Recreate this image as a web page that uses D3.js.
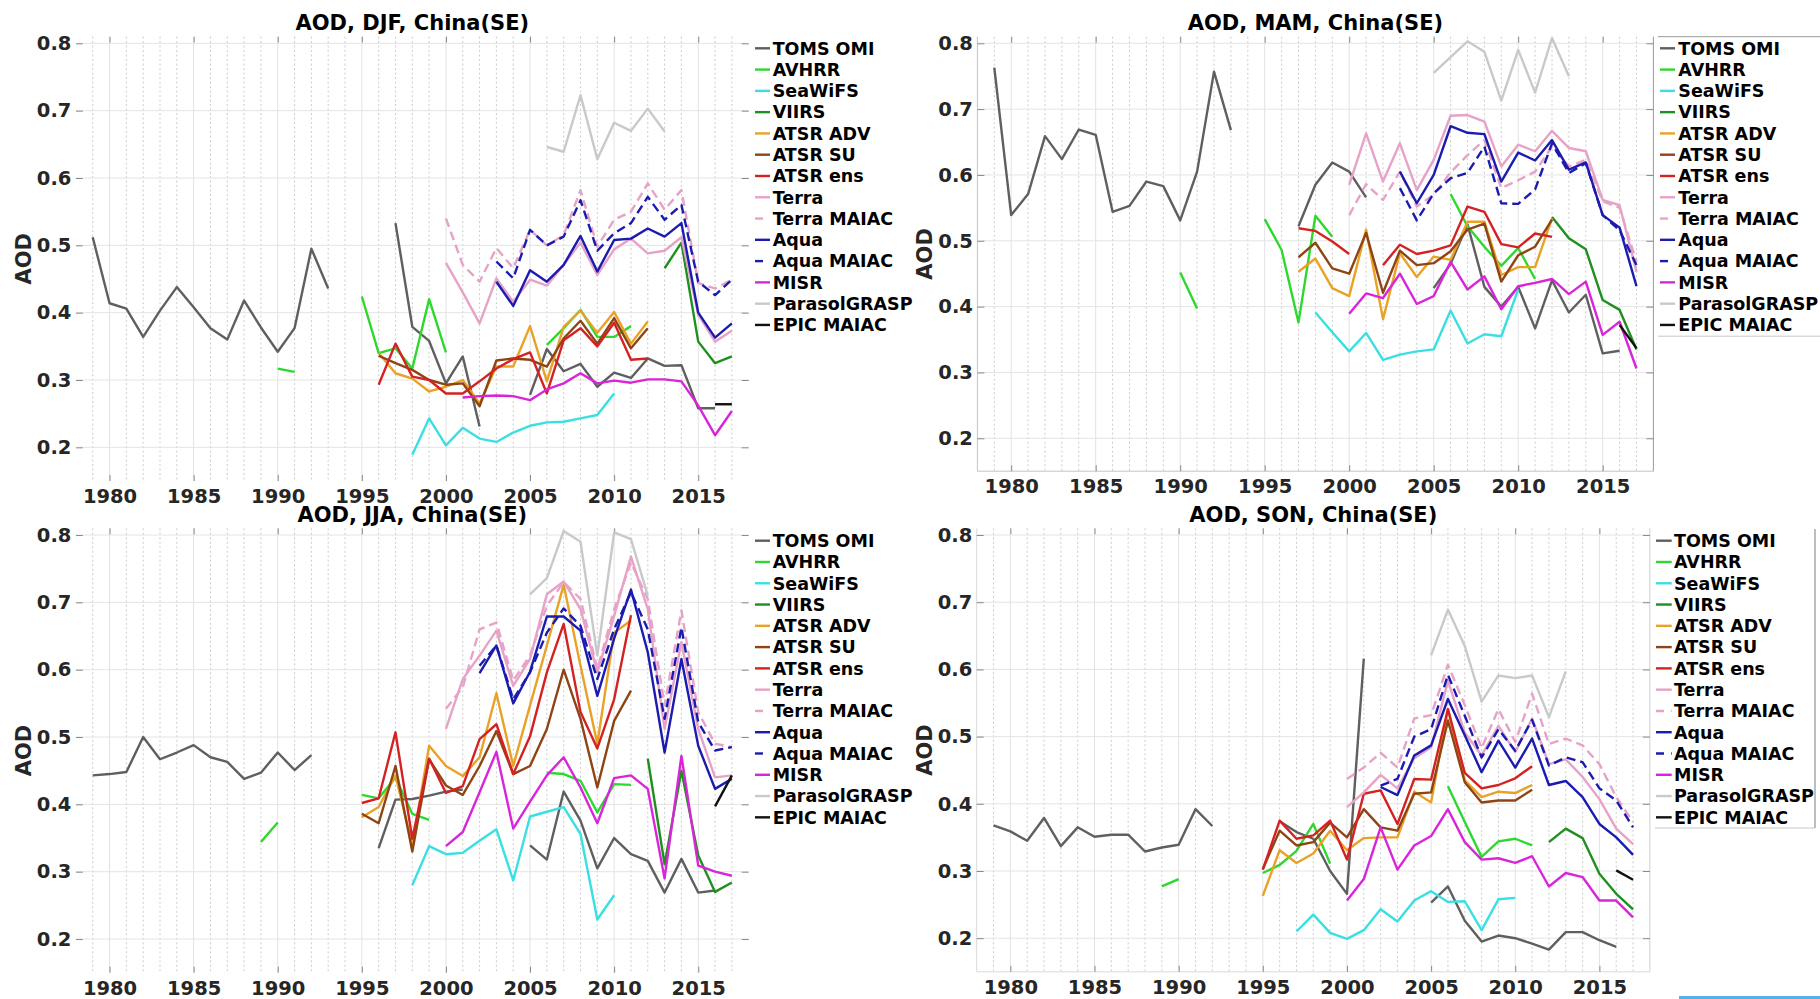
<!DOCTYPE html>
<html>
<head>
<meta charset="utf-8">
<script src="https://cdn.jsdelivr.net/npm/d3@7"></script>
<style>
  html, body { margin: 0; padding: 0; background: #ffffff; }
  svg { display: block; font-family: "DejaVu Sans", sans-serif; }
</style>
</head>
<body>
<svg id="chart" width="1820" height="999"></svg>
<script>
// ---- Series definitions (legend order) ----
const SERIES_NAMES = ["TOMS OMI", "AVHRR", "SeaWiFS", "VIIRS", "ATSR ADV", "ATSR SU", "ATSR ens",
  "Terra", "Terra MAIAC", "Aqua", "Aqua MAIAC", "MISR", "ParasolGRASP", "EPIC MAIAC"];
const SERIES_COLORS = ["#5f5f5f", "#2ed82e", "#3adfe3", "#1f8f1f", "#e9a126", "#8e4414", "#d42222",
  "#e7a2c8", "#e7a2c8", "#1b1bb0", "#1b1bb0", "#d925d9", "#c9c9c9", "#111111"];
const SERIES_DASHED = [false, false, false, false, false, false, false, false, true, false, true, false, false, false];

const YEAR_TICKS = [1980, 1985, 1990, 1995, 2000, 2005, 2010, 2015];
const AOD_TICKS = [0.2, 0.3, 0.4, 0.5, 0.6, 0.7, 0.8];
const YEAR_LIMITS = [1978, 2018];
const AOD_LIMITS = [0.15, 0.81];

// ---- DJF (start year + yearly AOD, null = no retrieval) ----
const djfTomsOmi = { start: 1979, aod: [0.512, 0.414, 0.406, 0.364, 0.403, 0.438, 0.408, 0.377, 0.360, 0.418, 0.378, 0.342, 0.377, 0.495, 0.436, null, null, null, 0.533, 0.379, 0.358, 0.295, 0.335, 0.231, null, null, 0.278, 0.346, 0.313, 0.324, 0.290, 0.311, 0.303, 0.332, 0.321, 0.322, 0.258, 0.258] };
const djfAvhrr = { start: 1990, aod: [0.317, 0.312, null, null, null, 0.424, 0.340, 0.347, 0.317, 0.420, 0.341, null, null, null, null, null, 0.352, 0.377, 0.404, 0.364, 0.364, 0.380] };
const djfSeawifs = { start: 1998, aod: [0.189, 0.243, 0.203, 0.229, 0.213, 0.208, 0.222, 0.232, 0.237, 0.238, 0.243, 0.248, 0.280] };
const djfViirs = { start: 2013, aod: [0.466, 0.504, 0.357, 0.325, 0.335] };
const djfAtsrAdv = { start: 1996, aod: [0.340, 0.310, 0.302, 0.283, 0.290, 0.300, 0.265, 0.320, 0.320, 0.380, 0.298, 0.379, 0.403, 0.370, 0.401, 0.354, 0.387] };
const djfAtsrSu = { start: 1996, aod: [0.336, 0.325, 0.315, 0.300, 0.293, 0.295, 0.261, 0.329, 0.332, 0.330, 0.320, 0.362, 0.388, 0.354, 0.392, 0.347, 0.377] };
const djfAtsrEns = { start: 1996, aod: [0.293, 0.354, 0.305, 0.300, 0.280, 0.280, 0.298, 0.317, 0.331, 0.341, 0.280, 0.359, 0.377, 0.350, 0.385, 0.330, 0.332] };
const djfTerra = { start: 2000, aod: [0.474, 0.430, 0.384, 0.451, 0.416, 0.449, 0.440, 0.471, 0.504, 0.456, 0.494, 0.510, 0.488, 0.492, 0.512, 0.397, 0.357, 0.373] };
const djfTerraMaiac = { start: 2000, aod: [0.540, 0.471, 0.446, 0.496, 0.466, 0.523, 0.500, 0.515, 0.582, 0.498, 0.538, 0.550, 0.592, 0.553, 0.582, 0.444, 0.436, 0.449] };
const djfAqua = { start: 2003, aod: [0.446, 0.410, 0.463, 0.446, 0.471, 0.514, 0.461, 0.508, 0.510, 0.525, 0.513, 0.533, 0.400, 0.363, 0.384] };
const djfAquaMaiac = { start: 2003, aod: [0.476, 0.451, 0.523, 0.500, 0.513, 0.567, 0.492, 0.518, 0.533, 0.572, 0.538, 0.560, 0.446, 0.426, 0.449] };
const djfMisr = { start: 2001, aod: [0.274, 0.276, 0.277, 0.276, 0.270, 0.286, 0.295, 0.310, 0.295, 0.299, 0.296, 0.301, 0.301, 0.298, 0.262, 0.218, 0.254] };
const djfParasol = { start: 2006, aod: [0.646, 0.639, 0.723, 0.628, 0.682, 0.670, 0.703, 0.669] };
const djfEpic = { start: 2016, aod: [0.264, 0.264] };

// ---- MAM ----
const mamTomsOmi = { start: 1979, aod: [0.763, 0.539, 0.571, 0.659, 0.624, 0.669, 0.661, 0.544, 0.553, 0.590, 0.583, 0.531, 0.605, 0.757, 0.668, null, null, null, 0.522, 0.585, 0.619, 0.605, 0.566, null, null, null, 0.428, 0.465, 0.525, 0.430, 0.400, 0.430, 0.367, 0.440, 0.391, 0.418, 0.329, 0.333] };
const mamAvhrr = { start: 1990, aod: [0.452, 0.397, null, null, null, 0.533, 0.486, 0.376, 0.538, 0.506, null, null, null, null, null, null, 0.571, 0.522, 0.491, 0.462, 0.489, 0.442] };
const mamSeawifs = { start: 1998, aod: [0.391, 0.361, 0.332, 0.360, 0.319, 0.327, 0.332, 0.335, 0.394, 0.344, 0.358, 0.355, 0.426] };
const mamViirs = { start: 2012, aod: [0.536, 0.504, 0.487, 0.410, 0.395, 0.335] };
const mamAtsrAdv = { start: 1997, aod: [0.453, 0.473, 0.428, 0.416, 0.517, 0.381, 0.481, 0.445, 0.476, 0.471, 0.529, 0.529, 0.448, 0.460, 0.460, 0.534] };
const mamAtsrSu = { start: 1997, aod: [0.475, 0.497, 0.458, 0.450, 0.512, 0.421, 0.485, 0.463, 0.466, 0.484, 0.517, 0.526, 0.438, 0.478, 0.491, 0.532] };
const mamAtsrEns = { start: 1997, aod: [0.519, 0.515, 0.499, 0.480, null, 0.463, 0.494, 0.480, 0.485, 0.493, 0.552, 0.544, 0.495, 0.490, 0.511, 0.506] };
const mamTerra = { start: 2000, aod: [0.585, 0.663, 0.590, 0.648, 0.577, 0.623, 0.690, 0.691, 0.681, 0.613, 0.646, 0.636, 0.667, 0.641, 0.636, 0.562, 0.554, 0.453] };
const mamTerraMaiac = { start: 2000, aod: [0.539, 0.586, 0.562, 0.605, 0.552, 0.570, 0.604, 0.630, 0.653, 0.580, 0.592, 0.605, 0.643, 0.613, 0.623, 0.560, 0.550, 0.468] };
const mamAqua = { start: 2003, aod: [0.605, 0.557, 0.600, 0.674, 0.664, 0.662, 0.590, 0.634, 0.622, 0.653, 0.608, 0.619, 0.539, 0.520, 0.431] };
const mamAquaMaiac = { start: 2003, aod: [0.580, 0.531, 0.572, 0.595, 0.603, 0.643, 0.557, 0.556, 0.578, 0.648, 0.603, 0.618, 0.539, 0.516, 0.463] };
const mamMisr = { start: 2000, aod: [0.389, 0.420, 0.413, 0.450, 0.404, 0.416, 0.468, 0.426, 0.446, 0.396, 0.431, 0.436, 0.442, 0.419, 0.438, 0.357, 0.377, 0.306] };
const mamParasol = { start: 2005, aod: [0.755, 0.779, 0.803, 0.787, 0.713, 0.790, 0.725, 0.808, 0.750] };
const mamEpic = { start: 2016, aod: [0.372, 0.337] };

// ---- JJA ----
const jjaTomsOmi = { start: 1979, aod: [0.443, 0.445, 0.448, 0.500, 0.467, 0.477, 0.488, 0.470, 0.463, 0.438, 0.447, 0.477, 0.451, 0.473, null, null, null, 0.335, 0.407, 0.408, 0.413, 0.419, 0.422, null, null, null, 0.339, 0.318, 0.419, 0.376, 0.305, 0.350, 0.326, 0.316, 0.269, 0.319, 0.269, 0.272] };
const jjaAvhrr = { start: 1989, aod: [0.344, 0.373, null, null, null, null, 0.414, 0.409, 0.440, 0.386, 0.377, null, null, null, null, null, null, 0.447, 0.445, 0.435, 0.388, 0.430, 0.429] };
const jjaSeawifs = { start: 1998, aod: [0.280, 0.338, 0.326, 0.328, 0.346, 0.363, 0.287, 0.382, 0.389, 0.396, 0.356, 0.229, 0.265] };
const jjaViirs = { start: 2012, aod: [0.468, 0.311, 0.450, 0.324, 0.270, 0.284] };
const jjaAtsrAdv = { start: 1995, aod: [0.381, 0.396, 0.443, 0.339, 0.487, 0.457, 0.442, 0.470, 0.565, 0.457, 0.547, 0.636, 0.726, 0.606, 0.490, 0.655, 0.673] };
const jjaAtsrSu = { start: 1995, aod: [0.386, 0.372, 0.457, 0.330, 0.467, 0.428, 0.414, 0.457, 0.509, 0.445, 0.457, 0.512, 0.600, 0.527, 0.425, 0.524, 0.569] };
const jjaAtsrEns = { start: 1995, aod: [0.402, 0.409, 0.507, 0.349, 0.468, 0.417, 0.427, 0.497, 0.519, 0.445, 0.501, 0.596, 0.668, 0.537, 0.483, 0.556, 0.681] };
const jjaTerra = { start: 2000, aod: [0.512, 0.586, 0.621, 0.658, 0.576, 0.616, 0.712, 0.731, 0.690, 0.596, 0.680, 0.768, 0.690, 0.512, 0.641, 0.512, 0.440, 0.443] };
const jjaTerraMaiac = { start: 2000, aod: [0.542, 0.574, 0.660, 0.670, 0.584, 0.621, 0.695, 0.730, 0.705, 0.601, 0.690, 0.759, 0.705, 0.547, 0.688, 0.537, 0.490, 0.485] };
const jjaAqua = { start: 2002, aod: [0.595, 0.636, 0.550, 0.597, 0.679, 0.679, 0.658, 0.561, 0.646, 0.719, 0.626, 0.477, 0.616, 0.487, 0.423, 0.438] };
const jjaAquaMaiac = { start: 2002, aod: [0.606, 0.636, 0.556, 0.596, 0.655, 0.691, 0.665, 0.586, 0.660, 0.715, 0.660, 0.527, 0.663, 0.522, 0.480, 0.485] };
const jjaMisr = { start: 2000, aod: [0.338, 0.359, 0.418, 0.478, 0.364, 0.404, 0.443, 0.470, 0.425, 0.372, 0.439, 0.443, 0.423, 0.290, 0.472, 0.309, 0.300, 0.294] };
const jjaParasol = { start: 2005, aod: [0.712, 0.736, 0.806, 0.790, 0.621, 0.804, 0.794, 0.710] };
const jjaEpic = { start: 2016, aod: [0.397, 0.443] };

// ---- SON ----
const sonTomsOmi = { start: 1979, aod: [0.368, 0.359, 0.345, 0.379, 0.337, 0.365, 0.351, 0.354, 0.354, 0.329, 0.335, 0.339, 0.392, 0.367, null, null, null, 0.374, 0.358, 0.348, 0.300, 0.266, 0.616, null, null, null, 0.253, 0.277, 0.226, 0.195, 0.204, 0.200, 0.192, 0.183, 0.209, 0.209, 0.197, 0.187] };
const sonAvhrr = { start: 1989, aod: [0.277, 0.288, null, null, null, null, 0.297, 0.309, 0.330, 0.370, 0.311, null, null, null, null, null, null, 0.426, 0.373, 0.321, 0.344, 0.348, 0.338] };
const sonSeawifs = { start: 1997, aod: [0.210, 0.235, 0.208, 0.199, 0.212, 0.243, 0.225, 0.256, 0.270, 0.254, 0.255, 0.212, 0.258, 0.260] };
const sonViirs = { start: 2012, aod: [0.343, 0.363, 0.349, 0.296, 0.266, 0.243] };
const sonAtsrAdv = { start: 1995, aod: [0.263, 0.331, 0.312, 0.326, 0.360, 0.331, 0.349, 0.350, 0.350, 0.418, 0.402, 0.541, 0.435, 0.410, 0.418, 0.416, 0.428] };
const sonAtsrSu = { start: 1995, aod: [0.303, 0.360, 0.338, 0.343, 0.372, 0.350, 0.392, 0.365, 0.360, 0.415, 0.417, 0.524, 0.432, 0.402, 0.405, 0.405, 0.421] };
const sonAtsrEns = { start: 1995, aod: [0.302, 0.375, 0.348, 0.353, 0.375, 0.317, 0.415, 0.420, 0.370, 0.437, 0.436, 0.541, 0.446, 0.423, 0.428, 0.438, 0.456] };
const sonTerra = { start: 2000, aod: [0.395, 0.417, 0.443, 0.423, 0.468, 0.484, 0.583, 0.506, 0.472, 0.516, 0.477, 0.527, 0.459, 0.466, 0.440, 0.407, 0.363, 0.340] };
const sonTerraMaiac = { start: 2000, aod: [0.437, 0.454, 0.476, 0.454, 0.527, 0.532, 0.607, 0.547, 0.483, 0.541, 0.492, 0.564, 0.489, 0.497, 0.487, 0.459, 0.410, 0.373] };
const sonAqua = { start: 2002, aod: [0.425, 0.413, 0.472, 0.487, 0.556, 0.502, 0.447, 0.494, 0.454, 0.497, 0.428, 0.434, 0.410, 0.370, 0.350, 0.324] };
const sonAquaMaiac = { start: 2002, aod: [0.427, 0.437, 0.500, 0.511, 0.592, 0.531, 0.469, 0.511, 0.479, 0.525, 0.457, 0.469, 0.462, 0.423, 0.405, 0.365] };
const sonMisr = { start: 2000, aod: [0.256, 0.288, 0.365, 0.302, 0.338, 0.352, 0.392, 0.343, 0.317, 0.319, 0.312, 0.322, 0.277, 0.297, 0.291, 0.256, 0.256, 0.231] };
const sonParasol = { start: 2005, aod: [0.621, 0.689, 0.635, 0.552, 0.591, 0.587, 0.591, 0.529, 0.597] };
const sonEpic = { start: 2016, aod: [0.301, 0.287] };

const DJF = [djfTomsOmi, djfAvhrr, djfSeawifs, djfViirs, djfAtsrAdv, djfAtsrSu, djfAtsrEns, djfTerra, djfTerraMaiac, djfAqua, djfAquaMaiac, djfMisr, djfParasol, djfEpic];
const MAM = [mamTomsOmi, mamAvhrr, mamSeawifs, mamViirs, mamAtsrAdv, mamAtsrSu, mamAtsrEns, mamTerra, mamTerraMaiac, mamAqua, mamAquaMaiac, mamMisr, mamParasol, mamEpic];
const JJA = [jjaTomsOmi, jjaAvhrr, jjaSeawifs, jjaViirs, jjaAtsrAdv, jjaAtsrSu, jjaAtsrEns, jjaTerra, jjaTerraMaiac, jjaAqua, jjaAquaMaiac, jjaMisr, jjaParasol, jjaEpic];
const SON = [sonTomsOmi, sonAvhrr, sonSeawifs, sonViirs, sonAtsrAdv, sonAtsrSu, sonAtsrEns, sonTerra, sonTerraMaiac, sonAqua, sonAquaMaiac, sonMisr, sonParasol, sonEpic];

// ---- Panel layout ----
const PANELS = [
  { title: "AOD, DJF, China(SE)", series: DJF, left: 75.9, right: 748.7, top: 36.6, bottom: 481.0,
    titleY: 29.5, labelX: 23.3, frame: null,
    legend: { box: [752, 37.5, 164, 301], sample: [755, 770], textX: 772.7, row0: 48.3, edges: [] } },
  { title: "AOD, MAM, China(SE)", series: MAM, left: 977.4, right: 1653.4, top: 36.7, bottom: 471.2,
    titleY: 29.5, labelX: 924.2, frame: { color: "#c4c4c4", right: "#9a9a9a" },
    legend: { box: [1658, 36.7, 170, 299.5], sample: [1660, 1675], textX: 1678.3, row0: 48.3, edges: ["top", "bottom"] } },
  { title: "AOD, JJA, China(SE)", series: JJA, left: 75.9, right: 748.7, top: 528.3, bottom: 972.7,
    titleY: 521.5, labelX: 23.3, frame: null,
    legend: { box: [752, 530, 164, 300], sample: [755, 770], textX: 772.7, row0: 540.7, edges: [] } },
  { title: "AOD, SON, China(SE)", series: SON, left: 976.7, right: 1649.9, top: 528.3, bottom: 971.8,
    titleY: 521.5, labelX: 924.2, frame: { color: "#dadada", right: "#d0d0d0" },
    legend: { box: [1655, 529, 160, 299], sample: [1656, 1671.7], textX: 1674, row0: 540.7, edges: ["right", "bottom"] } }
];
const LEGEND_STEP = 21.28;

const svg = d3.select("#chart");
const FONT = "'DejaVu Sans', sans-serif";

function points(s) {
  return s.aod.map((v, i) => ({ year: s.start + i, aod: v }));
}

PANELS.forEach(p => {
  const x = d3.scaleLinear().domain(YEAR_LIMITS).range([p.left, p.right]);
  const y = d3.scaleLinear().domain(AOD_LIMITS).range([p.bottom, p.top]);
  const g = svg.append("g");

  // grid: yearly dotted verticals, solid 5-year verticals, solid horizontals
  const allYears = d3.range(YEAR_LIMITS[0] + 1, YEAR_LIMITS[1]);
  g.append("g").selectAll("line")
    .data(allYears.filter(yr => !YEAR_TICKS.includes(yr)))
    .join("line")
    .attr("x1", d => x(d)).attr("x2", d => x(d))
    .attr("y1", p.top).attr("y2", p.bottom)
    .attr("stroke", "#c6c6c6").attr("stroke-width", 0.9)
    .attr("stroke-dasharray", "2,2.5");
  g.append("g").selectAll("line")
    .data(YEAR_TICKS)
    .join("line")
    .attr("x1", d => x(d)).attr("x2", d => x(d))
    .attr("y1", p.top).attr("y2", p.bottom)
    .attr("stroke", "#e2e2e2").attr("stroke-width", 1);
  g.append("g").selectAll("line")
    .data(AOD_TICKS)
    .join("line")
    .attr("x1", p.left).attr("x2", p.right)
    .attr("y1", d => y(d)).attr("y2", d => y(d))
    .attr("stroke", "#e4e4e4").attr("stroke-width", 1);

  // axis frame where visible
  if (p.frame) {
    g.append("line").attr("x1", p.left).attr("x2", p.left).attr("y1", p.top).attr("y2", p.bottom)
      .attr("stroke", p.frame.color).attr("stroke-width", 1);
    g.append("line").attr("x1", p.left).attr("x2", p.right).attr("y1", p.bottom).attr("y2", p.bottom)
      .attr("stroke", p.frame.color).attr("stroke-width", 1);
    g.append("line").attr("x1", p.right).attr("x2", p.right).attr("y1", p.top).attr("y2", p.bottom)
      .attr("stroke", p.frame.right).attr("stroke-width", 1);
  }

  // axes with inward ticks
  const styleAxis = sel => {
    sel.select(".domain").remove();
    sel.selectAll(".tick line").attr("stroke", "#8a8a8a").attr("stroke-width", 1);
    sel.selectAll(".tick text")
      .attr("fill", "#262626")
      .style("font-family", FONT).style("font-size", "19.5px").style("font-weight", "bold");
  };
  g.append("g").attr("transform", `translate(${p.left},0)`)
    .call(d3.axisLeft(y).tickValues(AOD_TICKS).tickFormat(d3.format(".1f")).tickSize(-7).tickPadding(4.5))
    .call(styleAxis);
  g.append("g").attr("transform", `translate(${p.right},0)`)
    .call(d3.axisRight(y).tickValues(AOD_TICKS).tickFormat("").tickSize(-7))
    .call(styleAxis);
  g.append("g").attr("transform", `translate(0,${p.bottom})`)
    .call(d3.axisBottom(x).tickValues(YEAR_TICKS).tickFormat(d3.format("d")).tickSize(-6).tickPadding(8))
    .call(styleAxis);
  g.append("g").attr("transform", `translate(0,${p.top})`)
    .call(d3.axisTop(x).tickValues(YEAR_TICKS).tickFormat("").tickSize(-6))
    .call(styleAxis);

  // data lines
  const line = d3.line()
    .defined(d => d.aod != null)
    .x(d => x(d.year))
    .y(d => y(d.aod));
  g.append("g").selectAll("path")
    .data(p.series)
    .join("path")
    .attr("d", d => line(points(d)))
    .attr("fill", "none")
    .attr("stroke", (d, i) => SERIES_COLORS[i])
    .attr("stroke-width", 2.4)
    .attr("stroke-linejoin", "round")
    .attr("stroke-dasharray", (d, i) => SERIES_DASHED[i] ? "9,5" : null);

  // title and y label
  g.append("text")
    .attr("x", (p.left + p.right) / 2).attr("y", p.titleY)
    .attr("text-anchor", "middle")
    .style("font-family", FONT).style("font-size", "21px").style("font-weight", "bold")
    .attr("fill", "#000")
    .text(p.title);
  g.append("text")
    .attr("transform", `translate(${p.labelX},${(p.top + p.bottom) / 2}) rotate(-90)`)
    .attr("text-anchor", "middle").attr("dy", "0.36em")
    .style("font-family", FONT).style("font-size", "21px").style("font-weight", "bold")
    .attr("fill", "#262626")
    .text("AOD");

  // legend
  const L = p.legend;
  const lg = g.append("g");
  const [bx, by, bw, bh] = L.box;
  lg.append("rect").attr("x", bx).attr("y", by).attr("width", bw).attr("height", bh)
    .attr("fill", "#ffffff");
  if (L.edges.includes("top")) lg.append("line").attr("x1", bx).attr("x2", bx + bw).attr("y1", by).attr("y2", by).attr("stroke", "#9a9a9a");
  if (L.edges.includes("bottom")) lg.append("line").attr("x1", bx).attr("x2", bx + bw).attr("y1", by + bh).attr("y2", by + bh).attr("stroke", "#c8c8c8");
  if (L.edges.includes("right")) lg.append("line").attr("x1", bx + bw).attr("x2", bx + bw).attr("y1", by).attr("y2", by + bh).attr("stroke", "#a8a8a8").attr("stroke-width", 1.5);

  const rows = lg.selectAll("g.row")
    .data(SERIES_NAMES)
    .join("g").attr("class", "row")
    .attr("transform", (d, i) => `translate(0,${L.row0 + i * LEGEND_STEP})`);
  rows.append("line")
    .attr("x1", L.sample[0]).attr("x2", L.sample[1])
    .attr("y1", 0).attr("y2", 0)
    .attr("stroke", (d, i) => SERIES_COLORS[i])
    .attr("stroke-width", 2.4)
    .attr("stroke-dasharray", (d, i) => SERIES_DASHED[i] ? "8,7" : null);
  rows.append("text")
    .attr("x", L.textX).attr("y", 0).attr("dy", "0.36em")
    .style("font-family", FONT).style("font-size", "17.5px").style("font-weight", "bold")
    .attr("fill", "#000")
    .text(d => d);
});

// thin highlight bar along the lower right edge
svg.append("rect").attr("x", 1679).attr("y", 996).attr("width", 141).attr("height", 3).attr("fill", "#5ab0ea");
</script>
</body>
</html>
